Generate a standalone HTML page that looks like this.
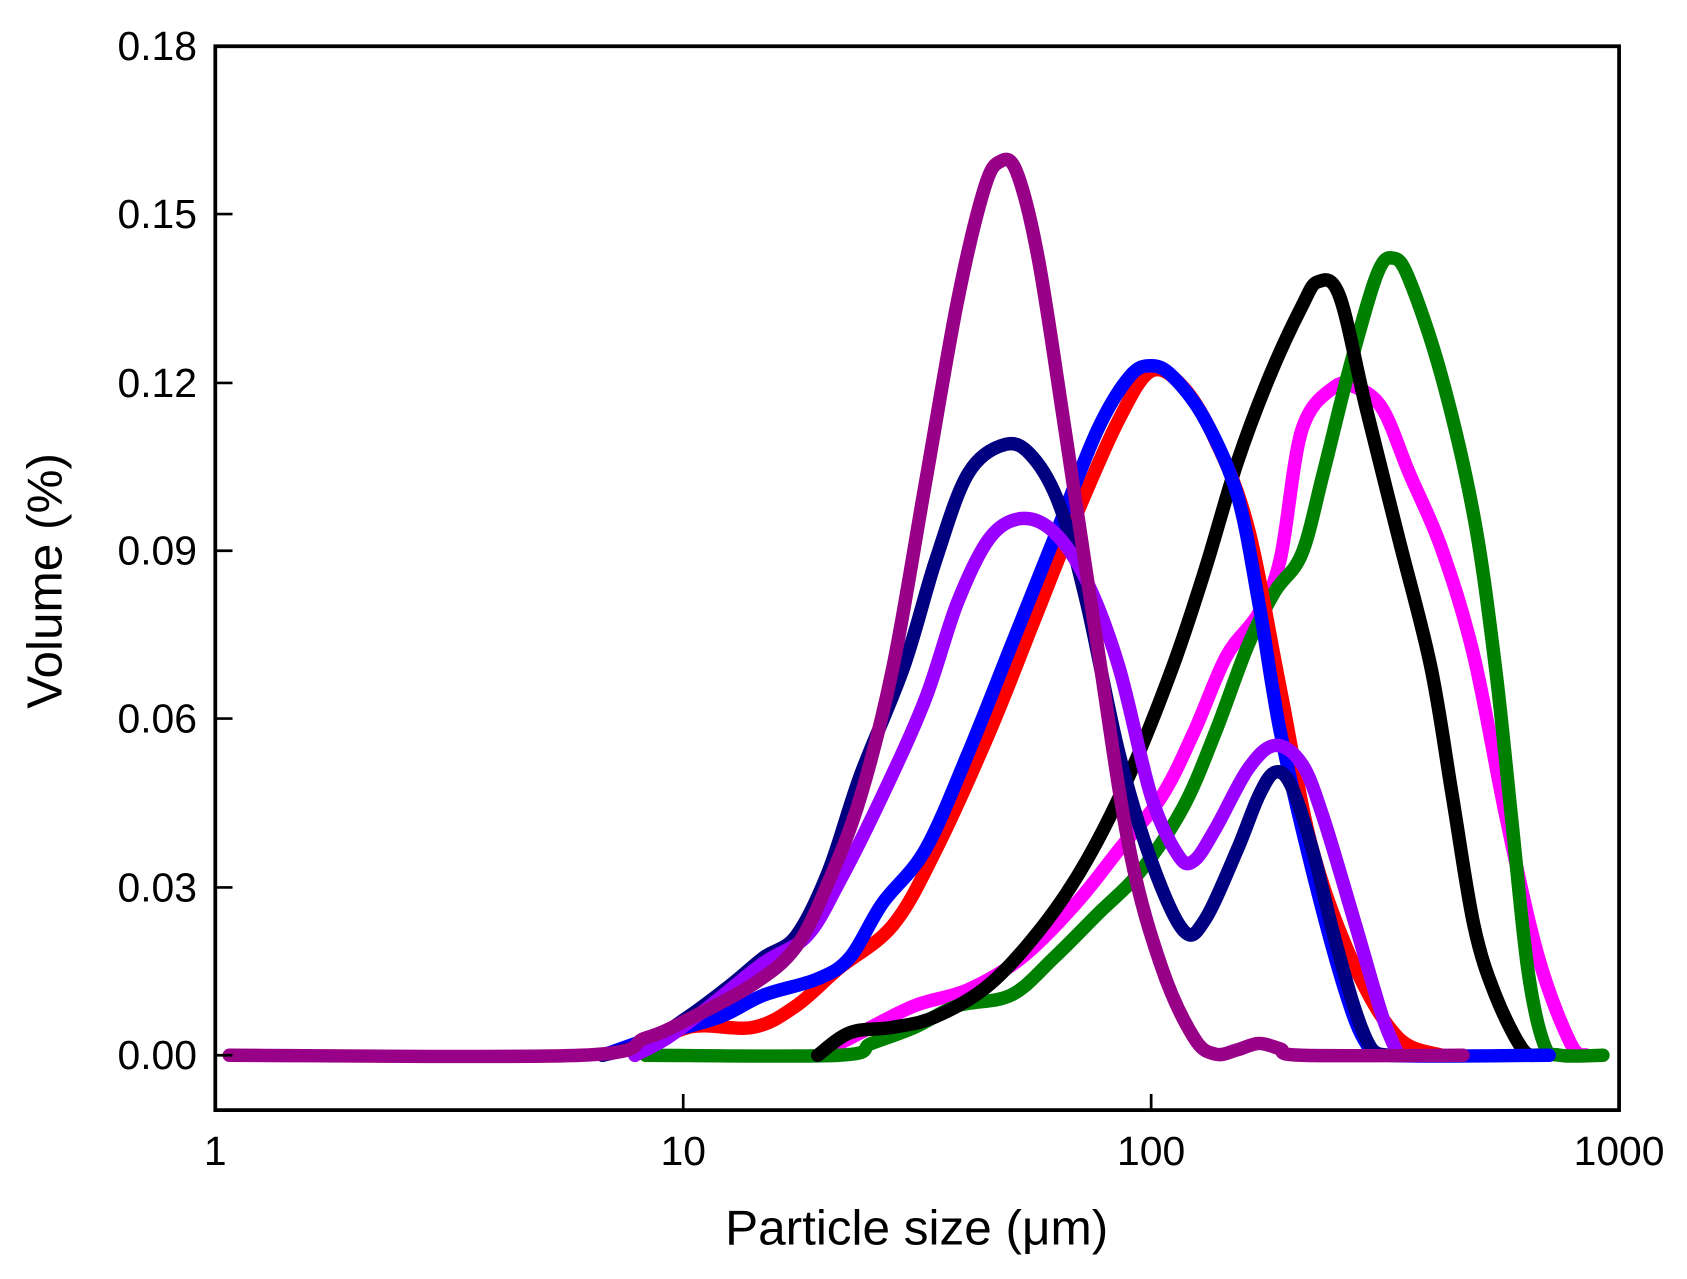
<!DOCTYPE html>
<html><head><meta charset="utf-8"><style>
html,body{margin:0;padding:0;background:#fff;}
svg{display:block;}
text{font-family:"Liberation Sans",Arial,sans-serif;fill:#000;}
</style></head><body>
<svg id="s" width="1687" height="1279" viewBox="0 0 1568 1189" xmlns="http://www.w3.org/2000/svg">
<rect x="0" y="0" width="1568" height="1189" fill="#fff"/>
<g id="curves" fill="none" stroke-width="12.5" stroke-linecap="round" stroke-linejoin="round"></g>
<rect x="200" y="43" width="1305" height="989" fill="none" stroke="#000" stroke-width="3.5"/>
<g stroke="#000" stroke-width="2.5">
<line x1="200" y1="981" x2="216" y2="981"/><line x1="200" y1="825" x2="216" y2="825"/>
<line x1="200" y1="668" x2="216" y2="668"/><line x1="200" y1="512" x2="216" y2="512"/>
<line x1="200" y1="356" x2="216" y2="356"/><line x1="200" y1="199" x2="216" y2="199"/>
<line x1="635" y1="1032" x2="635" y2="1017"/><line x1="1070" y1="1032" x2="1070" y2="1017"/>
</g>
<g font-size="38" text-anchor="end">
<text x="183" y="994">0.00</text><text x="183" y="838">0.03</text><text x="183" y="681">0.06</text>
<text x="183" y="525">0.09</text><text x="183" y="369">0.12</text><text x="183" y="212">0.15</text>
<text x="183" y="56">0.18</text>
</g>
<g font-size="38" text-anchor="middle">
<text x="200" y="1083">1</text><text x="635" y="1083">10</text><text x="1070" y="1083">100</text><text x="1505" y="1083">1000</text>
</g>
<text x="852" y="1157" font-size="46" text-anchor="middle">Particle size (μm)</text>
<text transform="translate(57,540) rotate(-90)" font-size="46" text-anchor="middle">Volume (%)</text>
</svg>
<script>
var S={
magenta:["#ff00ff",[[760,981],[800,960],[850,935],[900,920],[950,890],[1000,840],[1040,790],[1080,740],[1110,680],[1140,610],[1170,570],[1190,520],[1210,400],[1240,360],[1260,360],[1285,380],[1310,440],[1340,510],[1370,610],[1400,760],[1430,890],[1460,970],[1475,981]]],
green:["#008000",[[600,981],[780,981],[810,970],[850,955],[890,935],[940,925],[980,890],[1020,850],[1060,810],[1100,750],[1130,680],[1160,600],[1185,550],[1210,515],[1230,440],[1255,340],[1280,255],[1295,240],[1310,260],[1340,350],[1370,480],[1390,620],[1405,760],[1420,900],[1435,970],[1450,981],[1490,981]]],
black:["#000000",[[760,981],[790,960],[830,955],[870,945],[920,915],[970,860],[1010,800],[1050,720],[1090,620],[1120,530],[1150,430],[1180,350],[1210,285],[1225,262],[1245,275],[1270,380],[1300,500],[1330,620],[1350,740],[1370,860],[1390,925],[1415,975],[1430,981]]],
red:["#ff0000",[[590,981],[640,955],[700,955],[740,935],[780,900],[830,860],[870,790],[920,680],[960,580],[1000,480],[1040,390],[1070,345],[1100,360],[1130,410],[1160,490],[1190,640],[1220,790],[1260,900],[1300,965],[1340,981]]],
blue:["#0000ff",[[560,981],[620,960],[670,945],[710,925],[760,910],[790,890],[820,840],[860,790],[900,700],[940,600],[980,500],[1020,400],[1050,350],[1070,340],[1090,350],[1120,390],[1150,460],[1170,560],[1190,680],[1220,810],[1250,920],[1270,970],[1290,981],[1440,981]]],
navy:["#000080",[[560,981],[600,970],[640,945],[680,915],[710,890],[740,870],[770,810],[800,720],[840,620],[870,520],[900,440],[935,413],[960,425],[985,470],[1010,560],[1040,700],[1070,800],[1100,865],[1120,855],[1150,790],[1170,740],[1185,718],[1200,730],[1220,790],[1240,870],[1260,940],[1275,975],[1290,981]]],
violet:["#9900ff",[[590,981],[620,965],[660,935],[710,895],[750,870],[780,820],[820,740],[860,650],[890,560],[920,500],[950,482],[980,495],[1010,540],[1040,620],[1070,740],[1095,795],[1110,800],[1130,770],[1160,715],[1185,693],[1210,710],[1230,760],[1260,860],[1285,945],[1300,981]]],
purple:["#990088",[[213,981],[540,981],[600,965],[635,950],[700,915],[740,880],[770,820],[800,740],[830,620],[860,450],[890,280],[915,175],[930,150],[945,160],[965,240],[990,400],[1020,600],[1050,790],[1080,900],[1110,965],[1130,980],[1150,976],[1170,970],[1190,975],[1210,981],[1360,981]]]
};
var g=document.getElementById('curves'),ns="http://www.w3.org/2000/svg";
for(var k in S){var c=S[k][0],p=S[k][1],d="M"+p[0][0]+","+p[0][1];
for(var i=0;i<p.length-1;i++){var p0=p[i-1]||p[i],p1=p[i],p2=p[i+1],p3=p[i+2]||p2;
d+=" C"+(p1[0]+(p2[0]-p0[0])/6)+","+(p1[1]+(p2[1]-p0[1])/6)+" "+(p2[0]-(p3[0]-p1[0])/6)+","+(p2[1]-(p3[1]-p1[1])/6)+" "+p2[0]+","+p2[1];}
var e=document.createElementNS(ns,'path');e.setAttribute('d',d);e.setAttribute('stroke',c);g.appendChild(e);}
</script>
</body></html>
